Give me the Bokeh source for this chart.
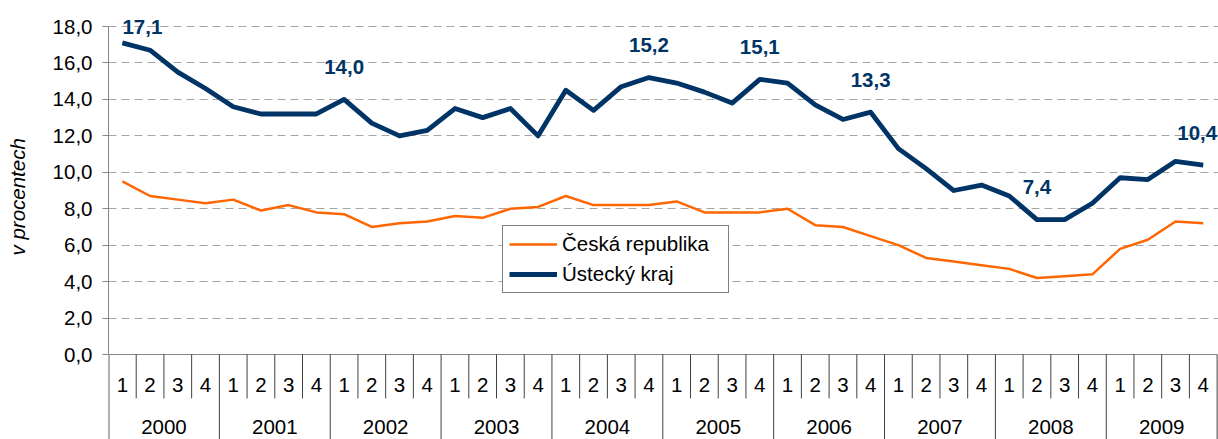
import math
from bokeh.plotting import figure
from bokeh.models import (ColumnDataSource, Range1d, FixedTicker, CustomJSTickFormatter,
                          Legend, LegendItem)
from bokeh.core.properties import value
from bokeh.embed import file_html
from bokeh.resources import INLINE

# ---- data ----
years = ["2000", "2001", "2002", "2003", "2004", "2005", "2006", "2007", "2008", "2009"]
quarters = ["1", "2", "3", "4"]
ceska_republika = [9.5, 8.7, 8.5, 8.3, 8.5, 7.9, 8.2, 7.8, 7.7, 7.0, 7.2, 7.3,
                   7.6, 7.5, 8.0, 8.1, 8.7, 8.2, 8.2, 8.2, 8.4, 7.8, 7.8, 7.8,
                   8.0, 7.1, 7.0, 6.5, 6.0, 5.3, 5.1, 4.9, 4.7, 4.2, 4.3, 4.4,
                   5.8, 6.3, 7.3, 7.2]
ustecky_kraj = [17.1, 16.7, 15.5, 14.6, 13.6, 13.2, 13.2, 13.2, 14.0, 12.7, 12.0, 12.3,
                13.5, 13.0, 13.5, 12.0, 14.5, 13.4, 14.7, 15.2, 14.9, 14.4, 13.8, 15.1,
                14.9, 13.7, 12.9, 13.3, 11.3, 10.2, 9.0, 9.3, 8.7, 7.4, 7.4, 8.3,
                9.7, 9.6, 10.6, 10.4]
label_idx = [0, 8, 19, 23, 27, 33, 39]
y_ticks = [0, 2, 4, 6, 8, 10, 12, 14, 16, 18]

NAVY = "#003366"
ORANGE = "#FF6600"
FONT = "Liberation Sans"
FS = "20.5px"

n = len(years) * len(quarters)
xs = [i + 0.5 for i in range(n)]

PX = 18.22  # pixels per unit (layout only)
p = figure(width=1218, height=439, output_backend="svg", toolbar_location=None,
           x_range=Range1d(0, n + 0.05), y_range=Range1d(-85 / PX, 349 / PX),
           min_border_left=108, min_border_right=0, min_border_top=5, min_border_bottom=0)
p.outline_line_color = None
p.xaxis.visible = False
p.xgrid.visible = False

yax = p.yaxis[0]
yax.bounds = (0, 18)
yax.ticker = FixedTicker(ticks=y_ticks)
yax.formatter = CustomJSTickFormatter(code="return tick.toFixed(1).replace('.', ',');")
yax.major_label_text_font = FONT
yax.major_label_text_font_size = FS
yax.major_label_text_color = "black"
yax.major_tick_out = 6
yax.major_tick_in = 0
yax.minor_tick_out = 0
yax.minor_tick_in = 0
yax.major_label_standoff = 10
yax.axis_line_color = "#868686"
yax.major_tick_line_color = "#868686"
yax.axis_label = "\u00a0" * 9 + "v procentech"
yax.axis_label_text_font = FONT
yax.axis_label_text_font_size = FS
yax.axis_label_text_font_style = "italic"
yax.axis_label_text_color = "black"
yax.axis_label_standoff = 21

p.ygrid.ticker = FixedTicker(ticks=y_ticks[1:])
p.ygrid.grid_line_color = "#A6A6A6"
p.ygrid.grid_line_dash = "8 5"
p.ygrid.grid_line_width = 1

# category axis (drawn in data space below 0)
p.segment(x0=[0], y0=[0], x1=[n], y1=[0], line_color="#868686", line_width=1)
p.segment(x0=[0], y0=[0], x1=[0], y1=[-10], line_color="#606060", line_width=2)
sep_x = list(range(1, n + 1))
sep_bottom = [-10 if (k % 4 == 0) else -2.41 for k in sep_x]
p.segment(x0=sep_x, y0=[0] * len(sep_x), x1=sep_x, y1=sep_bottom, line_color="#404040", line_width=1)
p.text(x=xs, y=[-1.65] * n, text=[quarters[i % 4] for i in range(n)],
       text_align="center", text_baseline="middle", text_font=value(FONT),
       text_font_size=FS, text_color="black")
p.text(x=[4 * k + 2 for k in range(len(years))], y=[-3.99] * len(years), text=years,
       text_align="center", text_baseline="middle", text_font=value(FONT),
       text_font_size=FS, text_color="black")

# series
r_cr = p.line(xs, ceska_republika, line_color=ORANGE, line_width=2.5, line_join="round")
r_us = p.line(xs, ustecky_kraj, line_color=NAVY, line_width=4.8, line_join="round")

# data labels
lab_src = ColumnDataSource(dict(
    x=[xs[i] for i in label_idx],
    y=[ustecky_kraj[i] for i in label_idx],
    t=[("%.1f" % ustecky_kraj[i]).replace(".", ",") for i in label_idx],
    xo=[20, 0, 0, 0, 0, 0, -6],
    yo=[-16, -32, -33, -32, -32, -33, -32],
))
p.text(x="x", y="y", text="t", x_offset="xo", y_offset="yo", source=lab_src,
       text_align="center", text_baseline="middle", text_font=value(FONT),
       text_font_size="20.5px", text_font_style="bold", text_color=NAVY)

legend = Legend(items=[LegendItem(label="Česká republika", renderers=[r_cr]),
                       LegendItem(label="Ústecký kraj", renderers=[r_us])],
                location=(394, 146), orientation="vertical")
legend.label_text_font = FONT
legend.label_text_font_size = FS
legend.label_text_color = "black"
legend.glyph_width = 48
legend.glyph_height = 22
legend.label_height = 22
legend.label_width = 160
legend.label_standoff = 5
legend.padding = 6
legend.spacing = 6
legend.margin = 0
legend.border_line_color = "black"
legend.border_line_width = 1
legend.background_fill_color = "white"
legend.background_fill_alpha = 1
p.add_layout(legend, "center")

open("out.html", "w").write(file_html(p, INLINE))
